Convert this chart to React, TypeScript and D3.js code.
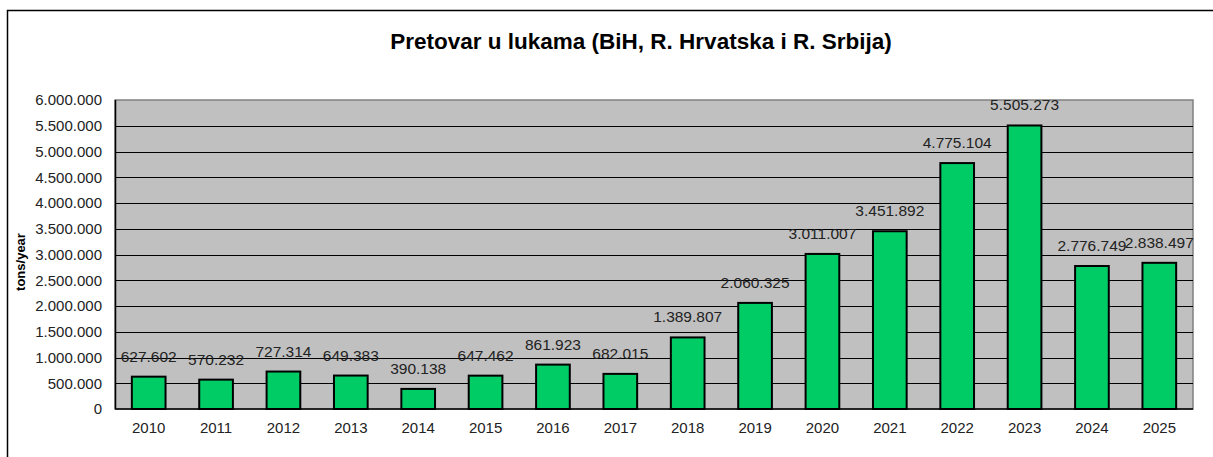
import React from "react";
import * as d3 from "d3";

const years = ["2010", "2011", "2012", "2013", "2014", "2015", "2016", "2017", "2018", "2019", "2020", "2021", "2022", "2023", "2024", "2025"];
const tonnage = [627602, 570232, 727314, 649383, 390138, 647462, 861923, 682015, 1389807, 2060325, 3011007, 3451892, 4775104, 5505273, 2776749, 2838497];
const yTicks = [0, 500000, 1000000, 1500000, 2000000, 2500000, 3000000, 3500000, 4000000, 4500000, 5000000, 5500000, 6000000];

const W = 1213;
const H = 457;
const plot = { left: 115, right: 1193, top: 100, bottom: 409 };
const font = "Arial, 'Liberation Sans', sans-serif";

// thousands with dots, like the source (Bosnian locale)
const fmt = d3.formatLocale({ decimal: ",", thousands: ".", grouping: [3], currency: ["", ""] }).format(",d");

const App = () => {
  const x = d3.scaleBand().domain(years).range([plot.left, plot.right]).paddingInner(0.5).paddingOuter(0.25);
  const y = d3.scaleLinear().domain([0, 6000000]).range([plot.bottom, plot.top]);

  return (
    <svg width={W} height={H} style={{ position: "absolute", left: 0, top: 0, background: "#fff" }} fontFamily={font}>
      {/* outer chart frame */}
      <path d={`M7.5,${H} V10.5 H${W}`} fill="none" stroke="#000" strokeWidth={1.5} />

      <text x={641} y={49} textAnchor="middle" fontSize={22.5} fontWeight="bold" fill="#000">
        Pretovar u lukama (BiH, R. Hrvatska i R. Srbija)
      </text>

      <rect x={plot.left} y={plot.top} width={plot.right - plot.left} height={plot.bottom - plot.top} fill="#c0c0c0" stroke="#808080" strokeWidth={1.5} />

      {yTicks.slice(1, -1).map((t) => (
        <line key={t} x1={plot.left} x2={plot.right} y1={Math.round(y(t)) + 0.5} y2={Math.round(y(t)) + 0.5} stroke="#000" strokeWidth={1} />
      ))}

      {/* axes */}
      <line x1={plot.left + 0.5} x2={plot.left + 0.5} y1={plot.top} y2={plot.bottom} stroke="#000" strokeWidth={1.5} />
      <line x1={plot.left} x2={plot.right} y1={plot.bottom} y2={plot.bottom} stroke="#000" strokeWidth={1.5} />

      {yTicks.map((t) => (
        <text key={t} x={102} y={y(t)} dy="0.35em" textAnchor="end" fontSize={15} fill="#222">
          {fmt(t)}
        </text>
      ))}

      <text transform="translate(25,262) rotate(-90)" textAnchor="middle" fontSize={13} fontWeight="bold" fill="#000">
        tons/year
      </text>

      {years.map((yr, i) => (
        <g key={yr}>
          <rect
            x={x(yr)}
            y={y(tonnage[i])}
            width={x.bandwidth()}
            height={y(0) - y(tonnage[i])}
            fill="#00cc66"
            stroke="#000"
            strokeWidth={2}
          />
          <text x={(x(yr) as number) + x.bandwidth() / 2} y={y(tonnage[i]) - 15} textAnchor="middle" fontSize={15.5} fill="#222">
            {fmt(tonnage[i])}
          </text>
          <text x={(x(yr) as number) + x.bandwidth() / 2} y={432.5} textAnchor="middle" fontSize={15} fill="#222">
            {yr}
          </text>
        </g>
      ))}
    </svg>
  );
};

export default App;
